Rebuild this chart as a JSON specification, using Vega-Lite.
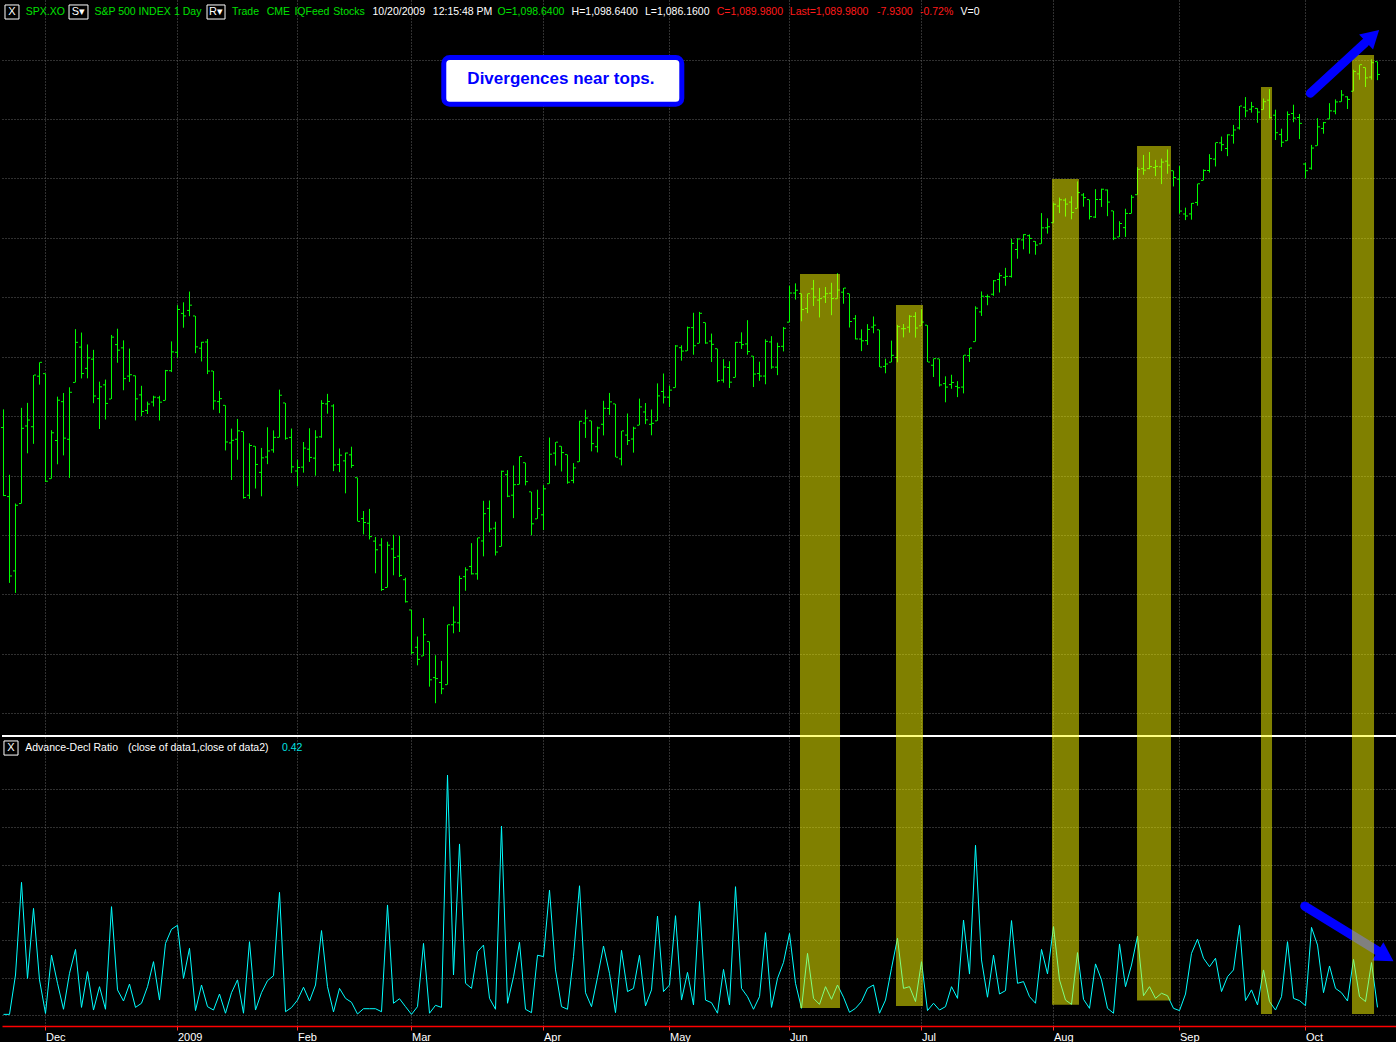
{
"$schema":"https://vega.github.io/schema/vega-lite/v6.json",
"background":"#000000",
"padding":0,
"spacing":0,
"bounds":"flush",
"config":{"view":{"stroke":null},"text":{"font":"Liberation Sans"}},
"resolve":{"scale":{"x":"independent","y":"independent","color":"independent"}},
"datasets":{
"ohlc":[
{"i":0,"o":852.34,"h":864.57,"l":806.18,"c":806.58},
{"i":1,"o":805.87,"h":820.52,"l":747.78,"c":752.44},
{"i":2,"o":755.84,"h":801.2,"l":741.02,"c":800.03},
{"i":3,"o":801.2,"h":865.6,"l":801.2,"c":851.81},
{"i":4,"o":853.4,"h":868.94,"l":834.99,"c":857.39},
{"i":5,"o":852.9,"h":887.68,"l":841.37,"c":887.68},
{"i":6,"o":886.89,"h":896.25,"l":881.21,"c":896.24},
{"i":7,"o":888.61,"h":888.61,"l":815.69,"c":816.21},
{"i":8,"o":817.94,"h":850.54,"l":817.94,"c":848.81},
{"i":9,"o":843.6,"h":873.12,"l":827.6,"c":870.74},
{"i":10,"o":869.75,"h":875.6,"l":833.6,"c":845.22},
{"i":11,"o":844.43,"h":879.42,"l":818.41,"c":876.07},
{"i":12,"o":882.71,"h":918.57,"l":882.71,"c":909.7},
{"i":13,"o":906.48,"h":916.26,"l":885.38,"c":888.67},
{"i":14,"o":892.17,"h":908.27,"l":885.45,"c":899.24},
{"i":15,"o":898.35,"h":904.63,"l":868.73,"c":873.59},
{"i":16,"o":871.79,"h":883.24,"l":851.35,"c":879.73},
{"i":17,"o":881.07,"h":884.63,"l":857.72,"c":868.57},
{"i":18,"o":871.53,"h":914.66,"l":871.53,"c":913.18},
{"i":19,"o":908.16,"h":918.85,"l":895.94,"c":904.42},
{"i":20,"o":905.98,"h":911.02,"l":877.44,"c":885.28},
{"i":21,"o":886.96,"h":905.47,"l":883.02,"c":887.88},
{"i":22,"o":887.2,"h":887.37,"l":857.09,"c":871.63},
{"i":23,"o":874.31,"h":880.44,"l":860.1,"c":863.16},
{"i":24,"o":863.87,"h":869.79,"l":861.44,"c":868.15},
{"i":25,"o":869.51,"h":873.74,"l":866.52,"c":872.8},
{"i":26,"o":872.37,"h":873.7,"l":857.07,"c":869.42},
{"i":27,"o":870.58,"h":891.12,"l":870.58,"c":890.64},
{"i":28,"o":890.59,"h":910.32,"l":889.67,"c":903.25},
{"i":29,"o":902.99,"h":934.73,"l":899.35,"c":931.8},
{"i":30,"o":929.17,"h":936.63,"l":919.53,"c":927.45},
{"i":31,"o":931.17,"h":943.85,"l":927.28,"c":934.7},
{"i":32,"o":927.45,"h":927.45,"l":902.37,"c":906.65},
{"i":33,"o":905.73,"h":910.0,"l":896.81,"c":909.73},
{"i":34,"o":909.91,"h":911.93,"l":888.31,"c":890.35},
{"i":35,"o":890.4,"h":890.4,"l":864.32,"c":870.26},
{"i":36,"o":869.79,"h":877.02,"l":862.02,"c":871.79},
{"i":37,"o":867.28,"h":867.28,"l":836.93,"c":842.62},
{"i":38,"o":841.99,"h":851.59,"l":817.04,"c":843.74},
{"i":39,"o":844.45,"h":858.13,"l":830.66,"c":850.12},
{"i":40,"o":849.64,"h":849.64,"l":804.47,"c":805.22},
{"i":41,"o":806.77,"h":841.72,"l":804.3,"c":840.24},
{"i":42,"o":839.74,"h":839.74,"l":811.29,"c":827.5},
{"i":43,"o":822.16,"h":838.61,"l":806.07,"c":831.95},
{"i":44,"o":832.5,"h":852.53,"l":827.69,"c":836.57},
{"i":45,"o":837.3,"h":850.45,"l":835.4,"c":845.71},
{"i":46,"o":845.73,"h":877.86,"l":845.73,"c":874.09},
{"i":47,"o":868.89,"h":868.89,"l":844.15,"c":845.14},
{"i":48,"o":845.69,"h":851.66,"l":821.67,"c":825.88},
{"i":49,"o":823.09,"h":830.78,"l":812.87,"c":825.44},
{"i":50,"o":825.69,"h":842.6,"l":821.98,"c":838.51},
{"i":51,"o":837.77,"h":851.85,"l":829.18,"c":832.23},
{"i":52,"o":831.75,"h":850.55,"l":819.91,"c":845.85},
{"i":53,"o":846.09,"h":870.75,"l":845.42,"c":868.6},
{"i":54,"o":868.24,"h":875.01,"l":861.65,"c":869.89},
{"i":55,"o":866.87,"h":868.05,"l":822.99,"c":827.16},
{"i":56,"o":827.41,"h":838.22,"l":822.3,"c":833.74},
{"i":57,"o":829.91,"h":835.48,"l":808.06,"c":835.19},
{"i":58,"o":833.95,"h":839.43,"l":825.21,"c":826.84},
{"i":59,"o":818.61,"h":818.61,"l":789.17,"c":789.17},
{"i":60,"o":791.06,"h":796.17,"l":780.43,"c":788.42},
{"i":61,"o":787.91,"h":797.58,"l":777.03,"c":778.94},
{"i":62,"o":775.87,"h":778.69,"l":754.25,"c":770.05},
{"i":63,"o":773.25,"h":777.85,"l":742.37,"c":743.33},
{"i":64,"o":744.69,"h":775.49,"l":744.69,"c":773.14},
{"i":65,"o":770.64,"h":780.12,"l":752.89,"c":764.9},
{"i":66,"o":765.76,"h":779.42,"l":751.75,"c":752.83},
{"i":67,"o":749.93,"h":751.27,"l":734.52,"c":735.09},
{"i":68,"o":729.57,"h":729.57,"l":699.7,"c":700.82},
{"i":69,"o":704.44,"h":711.67,"l":692.3,"c":696.33},
{"i":70,"o":698.6,"h":724.12,"l":698.6,"c":712.87},
{"i":71,"o":708.27,"h":708.27,"l":677.93,"c":682.55},
{"i":72,"o":684.04,"h":699.09,"l":666.79,"c":683.38},
{"i":73,"o":680.76,"h":695.27,"l":672.88,"c":676.53},
{"i":74,"o":679.28,"h":719.6,"l":679.28,"c":719.6},
{"i":75,"o":719.59,"h":731.92,"l":713.85,"c":721.36},
{"i":76,"o":720.89,"h":752.63,"l":714.76,"c":750.74},
{"i":77,"o":751.97,"h":758.29,"l":742.46,"c":756.55},
{"i":78,"o":758.84,"h":774.53,"l":753.37,"c":753.89},
{"i":79,"o":753.88,"h":778.12,"l":749.93,"c":778.12},
{"i":80,"o":776.01,"h":803.04,"l":765.64,"c":794.35},
{"i":81,"o":797.92,"h":803.24,"l":781.82,"c":784.04},
{"i":82,"o":784.58,"h":788.91,"l":766.2,"c":768.54},
{"i":83,"o":772.31,"h":823.37,"l":772.31,"c":822.92},
{"i":84,"o":820.6,"h":823.65,"l":805.48,"c":806.12},
{"i":85,"o":806.81,"h":826.78,"l":791.37,"c":813.88},
{"i":86,"o":814.06,"h":832.98,"l":814.06,"c":832.86},
{"i":87,"o":828.68,"h":828.68,"l":813.43,"c":815.94},
{"i":88,"o":809.07,"h":809.07,"l":779.81,"c":787.53},
{"i":89,"o":790.88,"h":810.48,"l":790.88,"c":797.87},
{"i":90,"o":793.59,"h":813.62,"l":783.32,"c":811.08},
{"i":91,"o":814.53,"h":845.61,"l":814.53,"c":834.38},
{"i":92,"o":835.13,"h":842.5,"l":826.7,"c":842.5},
{"i":93,"o":839.75,"h":839.75,"l":822.79,"c":835.48},
{"i":94,"o":834.12,"h":834.12,"l":814.53,"c":815.55},
{"i":95,"o":816.76,"h":828.42,"l":814.84,"c":825.16},
{"i":96,"o":829.29,"h":856.91,"l":829.29,"c":856.56},
{"i":97,"o":855.33,"h":864.31,"l":845.35,"c":858.73},
{"i":98,"o":856.88,"h":856.88,"l":836.31,"c":841.5},
{"i":99,"o":839.44,"h":852.93,"l":835.58,"c":852.06},
{"i":100,"o":854.54,"h":870.35,"l":847.04,"c":865.3},
{"i":101,"o":865.18,"h":875.63,"l":860.87,"c":869.6},
{"i":102,"o":868.27,"h":868.27,"l":832.39,"c":832.39},
{"i":103,"o":831.25,"h":850.09,"l":826.83,"c":850.08},
{"i":104,"o":847.26,"h":861.78,"l":840.57,"c":843.55},
{"i":105,"o":844.62,"h":852.87,"l":835.45,"c":851.92},
{"i":106,"o":853.91,"h":871.8,"l":853.91,"c":866.23},
{"i":107,"o":862.82,"h":868.83,"l":854.65,"c":857.51},
{"i":108,"o":854.48,"h":864.48,"l":847.12,"c":855.16},
{"i":109,"o":856.85,"h":882.06,"l":856.85,"c":873.64},
{"i":110,"o":876.59,"h":888.7,"l":868.51,"c":872.81},
{"i":111,"o":872.74,"h":880.48,"l":866.1,"c":877.52},
{"i":112,"o":879.21,"h":907.85,"l":879.21,"c":907.24},
{"i":113,"o":906.1,"h":907.7,"l":897.34,"c":903.8},
{"i":114,"o":903.95,"h":920.28,"l":903.95,"c":919.53},
{"i":115,"o":919.58,"h":929.58,"l":901.36,"c":907.39},
{"i":116,"o":909.03,"h":930.17,"l":909.03,"c":929.23},
{"i":117,"o":922.99,"h":922.99,"l":908.68,"c":909.24},
{"i":118,"o":910.52,"h":915.57,"l":896.46,"c":908.35},
{"i":119,"o":905.4,"h":905.4,"l":882.8,"c":883.92},
{"i":120,"o":884.24,"h":898.36,"l":882.52,"c":893.07},
{"i":121,"o":892.76,"h":896.97,"l":878.94,"c":882.88},
{"i":122,"o":886.07,"h":910.0,"l":886.07,"c":909.71},
{"i":123,"o":909.67,"h":916.39,"l":905.22,"c":908.13},
{"i":124,"o":908.62,"h":924.6,"l":901.37,"c":903.47},
{"i":125,"o":900.42,"h":900.42,"l":879.61,"c":888.33},
{"i":126,"o":888.68,"h":896.65,"l":883.75,"c":887.0},
{"i":127,"o":887.0,"h":911.76,"l":881.46,"c":910.33},
{"i":128,"o":909.95,"h":913.84,"l":891.87,"c":893.06},
{"i":129,"o":892.96,"h":909.45,"l":887.6,"c":906.83},
{"i":130,"o":907.02,"h":920.02,"l":903.56,"c":919.14},
{"i":131,"o":923.26,"h":947.77,"l":923.26,"c":942.87},
{"i":132,"o":942.87,"h":949.38,"l":938.46,"c":944.74},
{"i":133,"o":942.51,"h":942.51,"l":923.85,"c":931.76},
{"i":134,"o":932.49,"h":942.47,"l":929.32,"c":942.46},
{"i":135,"o":945.67,"h":951.69,"l":934.13,"c":940.09},
{"i":136,"o":938.12,"h":946.33,"l":926.44,"c":939.14},
{"i":137,"o":940.35,"h":946.92,"l":936.15,"c":942.43},
{"i":138,"o":942.73,"h":949.77,"l":927.97,"c":939.15},
{"i":139,"o":939.04,"h":956.23,"l":939.04,"c":944.89},
{"i":140,"o":943.44,"h":946.3,"l":935.66,"c":946.21},
{"i":141,"o":942.45,"h":942.45,"l":919.65,"c":923.72},
{"i":142,"o":925.6,"h":928.0,"l":911.6,"c":911.97},
{"i":143,"o":911.89,"h":918.44,"l":903.78,"c":910.71},
{"i":144,"o":910.86,"h":921.93,"l":907.94,"c":918.37},
{"i":145,"o":919.96,"h":927.09,"l":915.8,"c":921.23},
{"i":146,"o":918.13,"h":918.13,"l":893.04,"c":893.04},
{"i":147,"o":893.46,"h":898.69,"l":888.86,"c":895.1},
{"i":148,"o":896.31,"h":910.85,"l":896.31,"c":900.94},
{"i":149,"o":899.45,"h":921.42,"l":896.27,"c":920.26},
{"i":150,"o":918.84,"h":922.0,"l":913.03,"c":918.9},
{"i":151,"o":919.86,"h":927.99,"l":916.18,"c":927.23},
{"i":152,"o":927.15,"h":930.01,"l":912.86,"c":919.32},
{"i":153,"o":920.82,"h":931.92,"l":920.82,"c":923.33},
{"i":154,"o":921.24,"h":921.24,"l":896.42,"c":896.42},
{"i":155,"o":894.27,"h":898.72,"l":886.36,"c":898.72},
{"i":156,"o":898.6,"h":898.6,"l":879.93,"c":881.03},
{"i":157,"o":881.9,"h":886.8,"l":869.32,"c":879.56},
{"i":158,"o":881.28,"h":887.86,"l":878.45,"c":882.68},
{"i":159,"o":880.03,"h":883.57,"l":872.81,"c":879.13},
{"i":160,"o":879.57,"h":901.05,"l":875.32,"c":901.05},
{"i":161,"o":900.77,"h":905.84,"l":896.5,"c":905.84},
{"i":162,"o":910.15,"h":933.95,"l":910.15,"c":932.68},
{"i":163,"o":930.17,"h":943.96,"l":927.45,"c":940.74},
{"i":164,"o":940.56,"h":941.89,"l":934.65,"c":940.38},
{"i":165,"o":942.07,"h":951.62,"l":940.99,"c":951.13},
{"i":166,"o":951.97,"h":956.53,"l":943.22,"c":954.58},
{"i":167,"o":953.4,"h":959.83,"l":947.75,"c":954.07},
{"i":168,"o":954.07,"h":979.42,"l":953.27,"c":976.29},
{"i":169,"o":972.16,"h":979.79,"l":965.95,"c":979.26},
{"i":170,"o":978.63,"h":982.49,"l":972.29,"c":982.18},
{"i":171,"o":981.48,"h":982.35,"l":969.35,"c":979.62},
{"i":172,"o":977.66,"h":977.76,"l":968.65,"c":975.15},
{"i":173,"o":976.01,"h":996.68,"l":976.01,"c":986.75},
{"i":174,"o":986.8,"h":993.18,"l":982.85,"c":987.48},
{"i":175,"o":990.22,"h":1003.61,"l":990.22,"c":1002.63},
{"i":176,"o":1001.41,"h":1007.12,"l":996.68,"c":1005.65},
{"i":177,"o":1005.41,"h":1006.64,"l":994.31,"c":1002.72},
{"i":178,"o":1004.06,"h":1008.0,"l":992.49,"c":997.08},
{"i":179,"o":999.83,"h":1018.0,"l":999.83,"c":1010.48},
{"i":180,"o":1008.89,"h":1010.12,"l":1000.99,"c":1007.1},
{"i":181,"o":1005.77,"h":1005.77,"l":992.4,"c":994.35},
{"i":182,"o":994.0,"h":1012.78,"l":993.36,"c":1005.81},
{"i":183,"o":1005.86,"h":1013.14,"l":1000.82,"c":1012.73},
{"i":184,"o":1012.23,"h":1012.6,"l":994.6,"c":1004.09},
{"i":185,"o":998.18,"h":998.18,"l":978.51,"c":979.73},
{"i":186,"o":980.62,"h":991.2,"l":980.62,"c":989.67},
{"i":187,"o":986.88,"h":999.61,"l":980.62,"c":996.46},
{"i":188,"o":996.41,"h":1008.92,"l":996.39,"c":1007.37},
{"i":189,"o":1009.06,"h":1027.59,"l":1009.06,"c":1026.13},
{"i":190,"o":1026.59,"h":1035.82,"l":1022.48,"c":1025.57},
{"i":191,"o":1026.63,"h":1037.75,"l":1026.21,"c":1028.0},
{"i":192,"o":1027.35,"h":1032.47,"l":1021.57,"c":1028.12},
{"i":193,"o":1027.81,"h":1033.33,"l":1016.2,"c":1030.98},
{"i":194,"o":1031.62,"h":1039.47,"l":1023.13,"c":1028.93},
{"i":195,"o":1025.21,"h":1025.21,"l":1014.62,"c":1020.62},
{"i":196,"o":1019.52,"h":1028.45,"l":996.28,"c":998.04},
{"i":197,"o":996.07,"h":1000.34,"l":991.97,"c":994.75},
{"i":198,"o":996.12,"h":1003.43,"l":992.25,"c":1003.24},
{"i":199,"o":1003.84,"h":1016.48,"l":1001.65,"c":1016.4},
{"i":200,"o":1018.67,"h":1026.07,"l":1018.67,"c":1025.39},
{"i":201,"o":1025.36,"h":1036.34,"l":1023.97,"c":1033.37},
{"i":202,"o":1032.99,"h":1044.14,"l":1028.04,"c":1044.14},
{"i":203,"o":1043.92,"h":1048.18,"l":1038.4,"c":1042.73},
{"i":204,"o":1040.15,"h":1049.74,"l":1035.0,"c":1049.34},
{"i":205,"o":1049.03,"h":1056.04,"l":1043.42,"c":1052.63},
{"i":206,"o":1053.99,"h":1068.76,"l":1052.87,"c":1068.76},
{"i":207,"o":1067.87,"h":1074.77,"l":1061.2,"c":1065.49},
{"i":208,"o":1066.6,"h":1071.52,"l":1064.27,"c":1068.3},
{"i":209,"o":1067.14,"h":1067.28,"l":1057.46,"c":1064.66},
{"i":210,"o":1066.35,"h":1073.81,"l":1066.35,"c":1071.66},
{"i":211,"o":1072.69,"h":1080.15,"l":1060.39,"c":1060.87},
{"i":212,"o":1062.56,"h":1066.29,"l":1045.85,"c":1050.78},
{"i":213,"o":1049.48,"h":1053.47,"l":1041.17,"c":1044.38},
{"i":214,"o":1045.38,"h":1065.13,"l":1045.38,"c":1062.98},
{"i":215,"o":1063.69,"h":1069.62,"l":1057.83,"c":1060.61},
{"i":216,"o":1061.02,"h":1063.4,"l":1046.47,"c":1057.08},
{"i":217,"o":1029.71,"h":1030.6,"l":1019.95,"c":1025.21},
{"i":218,"o":1026.87,"h":1042.58,"l":1025.92,"c":1040.46},
{"i":219,"o":1042.02,"h":1060.55,"l":1042.02,"c":1054.72},
{"i":220,"o":1053.65,"h":1058.02,"l":1050.1,"c":1057.58},
{"i":221,"o":1060.03,"h":1070.67,"l":1060.03,"c":1065.48},
{"i":222,"o":1065.28,"h":1073.21,"l":1063.19,"c":1071.49},
{"i":223,"o":1071.63,"h":1079.46,"l":1071.63,"c":1076.19},
{"i":224,"o":1074.96,"h":1075.3,"l":1066.71,"c":1073.19},
{"i":225,"o":1078.68,"h":1093.17,"l":1078.68,"c":1092.02},
{"i":226,"o":1090.36,"h":1096.56,"l":1086.41,"c":1096.56},
{"i":227,"o":1094.67,"h":1094.67,"l":1081.53,"c":1087.68},
{"i":228,"o":1088.22,"h":1100.17,"l":1086.48,"c":1097.91},
{"i":229,"o":1098.64,"h":1098.64,"l":1086.16,"c":1089.98}
],
"ad":[
{"i":0,"v":0.05},{"i":1,"v":0.05},{"i":2,"v":2.14},{"i":3,"v":7.06},{"i":4,"v":1.96},{"i":5,"v":5.68},{"i":6,"v":1.88},{"i":7,"v":0.1},{"i":8,"v":3.2},{"i":9,"v":1.7},
{"i":10,"v":0.32},{"i":11,"v":2.23},{"i":12,"v":3.5},{"i":13,"v":0.42},{"i":14,"v":2.32},{"i":15,"v":0.28},{"i":16,"v":1.52},{"i":17,"v":0.32},{"i":18,"v":5.77},{"i":19,"v":1.35},
{"i":20,"v":0.76},{"i":21,"v":1.66},{"i":22,"v":0.42},{"i":23,"v":0.64},{"i":24,"v":1.52},{"i":25,"v":2.85},{"i":26,"v":0.81},{"i":27,"v":3.82},{"i":28,"v":4.57},{"i":29,"v":4.78},
{"i":30,"v":1.96},{"i":31,"v":3.56},{"i":32,"v":0.25},{"i":33,"v":1.61},{"i":34,"v":0.46},{"i":35,"v":0.28},{"i":36,"v":1.13},{"i":37,"v":0.11},{"i":38,"v":1.2},{"i":39,"v":1.88},
{"i":40,"v":0.11},{"i":41,"v":3.91},{"i":42,"v":0.28},{"i":43,"v":1.2},{"i":44,"v":1.84},{"i":45,"v":2.1},{"i":46,"v":6.53},{"i":47,"v":0.19},{"i":48,"v":0.41},{"i":49,"v":0.81},
{"i":50,"v":1.49},{"i":51,"v":0.76},{"i":52,"v":1.61},{"i":53,"v":4.5},{"i":54,"v":1.52},{"i":55,"v":0.18},{"i":56,"v":1.43},{"i":57,"v":0.9},{"i":58,"v":0.69},{"i":59,"v":0.07},
{"i":60,"v":0.35},{"i":61,"v":0.35},{"i":62,"v":0.35},{"i":63,"v":0.19},{"i":64,"v":5.86},{"i":65,"v":0.64},{"i":66,"v":0.88},{"i":67,"v":0.46},{"i":68,"v":0.05},{"i":69,"v":0.46},
{"i":70,"v":3.82},{"i":71,"v":0.11},{"i":72,"v":0.53},{"i":73,"v":0.42},{"i":74,"v":12.76},{"i":75,"v":2.14},{"i":76,"v":9.1},{"i":77,"v":1.7},{"i":78,"v":1.43},{"i":79,"v":3.38},
{"i":80,"v":3.73},{"i":81,"v":0.9},{"i":82,"v":0.32},{"i":83,"v":10.05},{"i":84,"v":0.64},{"i":85,"v":2.05},{"i":86,"v":3.88},{"i":87,"v":0.32},{"i":88,"v":0.14},{"i":89,"v":3.19},
{"i":90,"v":3.12},{"i":91,"v":6.65},{"i":92,"v":2.41},{"i":93,"v":0.46},{"i":94,"v":0.32},{"i":95,"v":3.12},{"i":96,"v":6.88},{"i":97,"v":1.2},{"i":98,"v":0.46},{"i":99,"v":2.02},
{"i":100,"v":3.68},{"i":101,"v":2.23},{"i":102,"v":0.14},{"i":103,"v":3.45},{"i":104,"v":1.26},{"i":105,"v":1.43},{"i":106,"v":3.19},{"i":107,"v":0.5},{"i":108,"v":1.35},{"i":109,"v":5.27},
{"i":110,"v":1.26},{"i":111,"v":1.61},{"i":112,"v":5.29},{"i":113,"v":0.81},{"i":114,"v":2.28},{"i":115,"v":0.55},{"i":116,"v":6.04},{"i":117,"v":0.81},{"i":118,"v":0.67},{"i":119,"v":0.11},
{"i":120,"v":2.44},{"i":121,"v":0.55},{"i":122,"v":6.83},{"i":123,"v":1.43},{"i":124,"v":0.99},{"i":125,"v":0.32},{"i":126,"v":0.99},{"i":127,"v":4.39},{"i":128,"v":0.42},{"i":129,"v":1.96},
{"i":130,"v":2.81},{"i":131,"v":4.35},{"i":132,"v":1.7},{"i":133,"v":0.37},{"i":134,"v":3.29},{"i":135,"v":0.9},{"i":136,"v":0.58},{"i":137,"v":1.52},{"i":138,"v":0.85},{"i":139,"v":1.61},
{"i":140,"v":0.96},{"i":141,"v":0.16},{"i":142,"v":0.37},{"i":143,"v":0.73},{"i":144,"v":1.43},{"i":145,"v":1.61},{"i":146,"v":0.11},{"i":147,"v":0.81},{"i":148,"v":2.5},{"i":149,"v":4.09},
{"i":150,"v":1.43},{"i":151,"v":1.52},{"i":152,"v":0.73},{"i":153,"v":2.85},{"i":154,"v":0.25},{"i":155,"v":0.64},{"i":156,"v":0.28},{"i":157,"v":0.46},{"i":158,"v":1.52},{"i":159,"v":0.9},
{"i":160,"v":5.06},{"i":161,"v":2.19},{"i":162,"v":9.03},{"i":163,"v":2.94},{"i":164,"v":0.96},{"i":165,"v":3.2},{"i":166,"v":1.13},{"i":167,"v":1.31},{"i":168,"v":5.03},{"i":169,"v":1.7},
{"i":170,"v":1.79},{"i":171,"v":0.99},{"i":172,"v":0.64},{"i":173,"v":3.5},{"i":174,"v":2.2},{"i":175,"v":4.71},{"i":176,"v":1.88},{"i":177,"v":0.81},{"i":178,"v":0.58},{"i":179,"v":3.33},
{"i":180,"v":0.85},{"i":181,"v":0.37},{"i":182,"v":2.73},{"i":183,"v":1.88},{"i":184,"v":0.37},{"i":185,"v":0.11},{"i":186,"v":3.79},{"i":187,"v":1.52},{"i":188,"v":2.67},{"i":189,"v":4.21},
{"i":190,"v":1.04},{"i":191,"v":1.52},{"i":192,"v":0.9},{"i":193,"v":1.17},{"i":194,"v":1.04},{"i":195,"v":0.37},{"i":196,"v":0.25},{"i":197,"v":1.13},{"i":198,"v":3.29},{"i":199,"v":4.04},
{"i":200,"v":3.03},{"i":201,"v":2.58},{"i":202,"v":3.03},{"i":203,"v":1.26},{"i":204,"v":2.05},{"i":205,"v":2.41},{"i":206,"v":4.78},{"i":207,"v":0.78},{"i":208,"v":1.35},{"i":209,"v":0.55},
{"i":210,"v":2.41},{"i":211,"v":0.73},{"i":212,"v":0.28},{"i":213,"v":0.99},{"i":214,"v":3.91},{"i":215,"v":0.9},{"i":216,"v":0.78},{"i":217,"v":0.51},{"i":218,"v":4.67},{"i":219,"v":3.73},
{"i":220,"v":1.2},{"i":221,"v":2.62},{"i":222,"v":1.43},{"i":223,"v":1.2},{"i":224,"v":0.76},{"i":225,"v":2.97},{"i":226,"v":0.99},{"i":227,"v":0.73},{"i":228,"v":2.8},{"i":229,"v":0.42}
],
"hl":[
{"s":132.75,"e":139.42,"top":955.7,"bot":0.39},
{"s":148.75,"e":153.25,"top":934.8,"bot":0.49},
{"s":174.75,"e":179.25,"top":1019.6,"bot":0.56},
{"s":188.92,"e":194.58,"top":1041.9,"bot":0.78},
{"s":209.58,"e":211.42,"top":1081.6,"bot":0.07},
{"s":224.75,"e":228.42,"top":1103.1,"bot":0.07}
],
"header":[
{"t":"SPX.XO","i":3.7,"r":"g"},
{"t":"S&P 500 INDEX","i":15.15,"r":"g"},
{"t":"1 Day","i":28.42,"r":"g"},
{"t":"Trade","i":38.08,"r":"g"},
{"t":"CME","i":43.87,"r":"g"},
{"t":"IQFeed","i":48.48,"r":"g"},
{"t":"Stocks","i":54.97,"r":"g"},
{"t":"10/20/2009","i":61.5,"r":"w"},
{"t":"12:15:48 PM","i":71.55,"r":"w"},
{"t":"O=1,098.6400","i":82.33,"r":"g"},
{"t":"H=1,098.6400","i":94.68,"r":"w"},
{"t":"L=1,086.1600","i":106.92,"r":"w"},
{"t":"C=1,089.9800","i":118.87,"r":"r"},
{"t":"Last=1,089.9800","i":131.05,"r":"r"},
{"t":"-7.9300","i":145.58,"r":"r"},
{"t":"-0.72%","i":152.75,"r":"r"},
{"t":"V=0","i":159.5,"r":"w"}
],
"hdrboxes":[
{"a":0.25,"b":2.58,"g":"X","m":1.42},
{"a":10.92,"b":14.08,"g":"S▾","m":12.5},
{"a":33.92,"b":36.92,"g":"R▾","m":35.42}
],
"note":[{"a":73.38,"b":113.05,"p1":1101.4,"p2":1070.0,"m":92.9,"pm":1086.9,"t":"Divergences near tops."}],
"arrowUp":[{"i":217.8,"p":1077.3},{"i":226.9,"p":1111.2}],
"headUp":[{"i":228.18,"p":1115.9}],
"arrowDown":[{"i":216.87,"v":5.8},{"i":229.08,"v":3.41}],
"headDown":[{"i":230.35,"v":3.13}],
"adheader":[
{"t":"Advance-Decl Ratio","i":3.62,"r":"w"},
{"t":"(close of data1,close of data2)","i":20.73,"r":"w"},
{"t":"0.42","i":46.42,"r":"c"}
]
},
"vconcat":[
{
"width":1396,"height":737,
"layer":[
{"data":{"name":"ohlc"},
 "mark":{"type":"rule","color":"#00ff00","strokeWidth":1},
 "encoding":{
  "x":{"field":"i","type":"quantitative","title":null,"scale":{"domain":[-0.25,232.4167],"nice":false,"zero":false},
   "axis":{"values":[7,29,49,68,90,111,131,153,175,196,217],"grid":true,"gridColor":"#606060","gridDash":[1,2],"labels":false,"ticks":false,"domain":false,"title":null,"minExtent":0,"maxExtent":0}},
  "y":{"field":"l","type":"quantitative","title":null,"scale":{"domain":[644.05,1140.1],"nice":false,"zero":false},
   "axis":{"values":[660,680,700,720,740,760,780,800,820,840,860,880,900,920,940,960,980,1000,1020,1040,1060,1080,1100,1120],"grid":true,"gridColor":"#606060","gridDash":[1,2],"labels":false,"ticks":false,"domain":false,"title":null,"minExtent":0,"maxExtent":0}},
  "y2":{"field":"h"}}},
{"data":{"name":"ohlc"},
 "mark":{"type":"tick","orient":"horizontal","size":2,"thickness":1,"xOffset":-1.5,"color":"#00ff00","opacity":1},
 "encoding":{"x":{"field":"i","type":"quantitative","title":null},"y":{"field":"o","type":"quantitative","title":null}}},
{"data":{"name":"ohlc"},
 "mark":{"type":"tick","orient":"horizontal","size":2,"thickness":1,"xOffset":1.5,"color":"#00ff00","opacity":1},
 "encoding":{"x":{"field":"i","type":"quantitative","title":null},"y":{"field":"c","type":"quantitative","title":null}}},
{"data":{"values":[{"sep":1}]},
 "mark":{"type":"rule","color":"#ffffff","strokeWidth":2},
 "encoding":{"y":{"datum":644.72,"type":"quantitative"}}},
{"data":{"name":"note"},
 "mark":{"type":"rect","fill":"#ffffff","stroke":"#0000ff","strokeWidth":5,"cornerRadius":6},
 "encoding":{"x":{"field":"a","type":"quantitative","title":null},"x2":{"field":"b"},"y":{"field":"p1","type":"quantitative","title":null},"y2":{"field":"p2"}}},
{"data":{"name":"note"},
 "mark":{"type":"text","color":"#0000ff","font":"Liberation Sans","fontWeight":"bold","fontSize":17,"align":"center","baseline":"middle"},
 "encoding":{"x":{"field":"m","type":"quantitative","title":null},"y":{"field":"pm","type":"quantitative","title":null},"text":{"field":"t"}}},
{"data":{"name":"hl"},
 "mark":{"type":"rect","color":"#ffff00","opacity":0.5},
 "encoding":{"x":{"field":"s","type":"quantitative","title":null},"x2":{"field":"e"},"y":{"field":"top","type":"quantitative","title":null},"y2":{"datum":644.05}}},
{"data":{"name":"arrowUp"},
 "mark":{"type":"line","color":"#0000ff","strokeWidth":9,"strokeCap":"round"},
 "encoding":{"x":{"field":"i","type":"quantitative","title":null},"y":{"field":"p","type":"quantitative","title":null}}},
{"data":{"name":"headUp"},
 "mark":{"type":"point","shape":"triangle-up","filled":true,"color":"#0000ff","opacity":1,"size":420,"angle":47.3},
 "encoding":{"x":{"field":"i","type":"quantitative","title":null},"y":{"field":"p","type":"quantitative","title":null}}},
{"data":{"name":"hdrboxes"},
 "mark":{"type":"rect","fill":null,"fillOpacity":0,"stroke":"#ffffff","strokeWidth":1},
 "encoding":{"x":{"field":"a","type":"quantitative","title":null},"x2":{"field":"b"},"y":{"datum":1136.75},"y2":{"datum":1127.3}}},
{"data":{"name":"hdrboxes"},
 "mark":{"type":"text","color":"#ffffff","fontSize":11,"align":"center","baseline":"middle"},
 "encoding":{"x":{"field":"m","type":"quantitative","title":null},"y":{"datum":1132.0},"text":{"field":"g"}}},
{"data":{"name":"header"},
 "mark":{"type":"text","fontSize":10.5,"align":"left","baseline":"middle"},
 "encoding":{"x":{"field":"i","type":"quantitative","title":null},"y":{"datum":1132.0},"text":{"field":"t"},
  "color":{"field":"r","type":"nominal","scale":{"domain":["g","w","r","c"],"range":["#00e000","#ffffff","#ff1a1a","#00e0e0"]},"legend":null}}}
]
},
{
"width":1396,"height":289,
"layer":[
{"data":{"name":"ad"},
 "mark":{"type":"line","color":"#00ffff","strokeWidth":1},
 "encoding":{
  "x":{"field":"i","type":"quantitative","title":null,"scale":{"domain":[-0.25,232.4167],"nice":false,"zero":false},
   "axis":{"values":[7,29,49,68,90,111,131,153,175,196,217],
    "labelExpr":"datum.value==7?'Dec':datum.value==29?'2009':datum.value==49?'Feb':datum.value==68?'Mar':datum.value==90?'Apr':datum.value==111?'May':datum.value==131?'Jun':datum.value==153?'Jul':datum.value==175?'Aug':datum.value==196?'Sep':'Oct'",
    "grid":true,"gridColor":"#606060","gridDash":[1,2],"domain":true,"domainColor":"#ff0000","domainWidth":1.5,"ticks":true,"tickColor":"#ff3030","tickSize":4,
    "labelColor":"#ffffff","labelFont":"Liberation Sans","labelFontSize":11,"labelAlign":"left","labelPadding":1,"labelOffset":0,"labelFlush":false,"labelOverlap":false,"title":null}},
  "y":{"field":"v","type":"quantitative","title":null,"scale":{"domain":[-0.568,14.78],"nice":false,"zero":false},
   "axis":{"values":[0,2,4,6,8,10,12],"grid":true,"gridColor":"#606060","gridDash":[1,2],"labels":false,"ticks":false,"domain":false,"title":null,"minExtent":0,"maxExtent":0}}}},
{"data":{"name":"arrowDown"},
 "mark":{"type":"line","color":"#0000ff","strokeWidth":9,"strokeCap":"round"},
 "encoding":{"x":{"field":"i","type":"quantitative","title":null},"y":{"field":"v","type":"quantitative","title":null}}},
{"data":{"name":"headDown"},
 "mark":{"type":"point","shape":"triangle-up","filled":true,"color":"#0000ff","opacity":1,"size":460,"angle":121.9},
 "encoding":{"x":{"field":"i","type":"quantitative","title":null},"y":{"field":"v","type":"quantitative","title":null}}},
{"data":{"name":"hl"},
 "mark":{"type":"rect","color":"#ffff00","opacity":0.5},
 "encoding":{"x":{"field":"s","type":"quantitative","title":null},"x2":{"field":"e"},"y":{"field":"bot","type":"quantitative","title":null},"y2":{"datum":14.78}}},
{"data":{"values":[{"a":0.08,"b":2.42,"m":1.25,"g":"X"}]},
 "mark":{"type":"rect","fill":null,"fillOpacity":0,"stroke":"#ffffff","strokeWidth":1},
 "encoding":{"x":{"field":"a","type":"quantitative","title":null},"x2":{"field":"b"},"y":{"datum":14.57},"y2":{"datum":13.82}}},
{"data":{"values":[{"a":0.08,"b":2.42,"m":1.25,"g":"X"}]},
 "mark":{"type":"text","color":"#ffffff","fontSize":11,"align":"center","baseline":"middle"},
 "encoding":{"x":{"field":"m","type":"quantitative","title":null},"y":{"datum":14.2},"text":{"field":"g"}}},
{"data":{"name":"adheader"},
 "mark":{"type":"text","fontSize":10.5,"align":"left","baseline":"middle"},
 "encoding":{"x":{"field":"i","type":"quantitative","title":null},"y":{"datum":14.2},"text":{"field":"t"},
  "color":{"field":"r","type":"nominal","scale":{"domain":["g","w","r","c"],"range":["#00e000","#ffffff","#ff1a1a","#00e0e0"]},"legend":null}}}
]
}
]
}
